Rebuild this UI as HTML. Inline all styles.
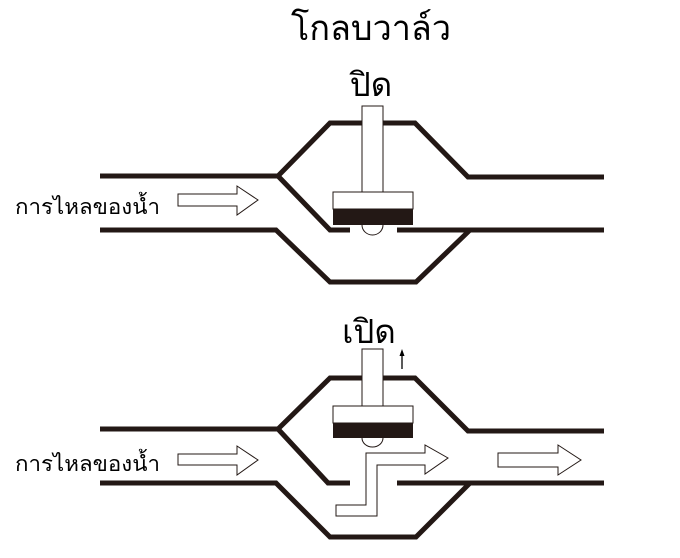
<!DOCTYPE html>
<html><head><meta charset="utf-8"><style>
html,body{margin:0;padding:0;background:#fff;}
svg{display:block;}
text{font-family:"Liberation Sans","DejaVu Sans",sans-serif;fill:#000;}
</style></head><body>
<svg width="680" height="558" viewBox="0 0 680 558" xmlns="http://www.w3.org/2000/svg">
<text x="371" y="40" font-size="35" text-anchor="middle" textLength="160" lengthAdjust="spacingAndGlyphs">โกลบวาล์ว</text>
<text x="371" y="96" font-size="33" text-anchor="middle">ปิด</text>
<text x="369" y="343" font-size="33" text-anchor="middle">เปิด</text>
<text x="15" y="214" font-size="21" textLength="145" lengthAdjust="spacingAndGlyphs">การไหลของน้ำ</text>
<text x="15" y="471" font-size="21" textLength="145" lengthAdjust="spacingAndGlyphs">การไหลของน้ำ</text>
<g fill="none" stroke="#231815" stroke-width="5" stroke-linejoin="miter">
<polyline points="100,176 278,176 330,123 415,123 468,177 604,177"/>
<polyline points="278,176 330,230 350,230"/>
<polyline points="100,230 276,230 330,282 416,282 470,230"/>
<polyline points="397,230 604,230"/>
<polyline points="100,429 278,429 330,378 415,378 468,431 604,431"/>
<polyline points="278,429 328,483 350,483"/>
<polyline points="100,483 276,483 330,537 416,537 470,483"/>
<polyline points="397,483 604,483"/>
</g>
<g fill="#fff" stroke="#231815" stroke-width="1">
<rect x="362" y="106" width="21" height="86"/>
<path d="M362,225 A10.5,10 0 0 0 383,225"/>
<rect x="333" y="192" width="80" height="17"/>
<rect x="362" y="349" width="21" height="57"/>
<path d="M362,438 A10.5,9 0 0 0 383,438"/>
<rect x="333" y="406" width="80" height="17"/>
</g>
<rect x="333" y="209" width="80" height="16" fill="#231815"/>
<rect x="333" y="423" width="80" height="15" fill="#231815"/>
<g fill="#fff" stroke="#231815" stroke-width="1">
<polygon points="178,194 237,194 237,186 258,200 237,215 237,206 178,206"/>
<polygon points="178,454 237,454 237,446 258,460 237,475 237,465 178,465"/>
<polygon points="336,505 366,505 366,453 425,453 425,445 448,458 425,474 425,465 377,465 377,516 336,516"/>
<polygon points="498,453 558,453 558,445 581,460 558,475 558,467 498,467"/>
</g>
<line x1="402" y1="369" x2="402" y2="354" stroke="#000" stroke-width="1.3"/>
<polygon points="402,349 399.5,356 404.5,356" fill="#000"/>
</svg>
</body></html>
